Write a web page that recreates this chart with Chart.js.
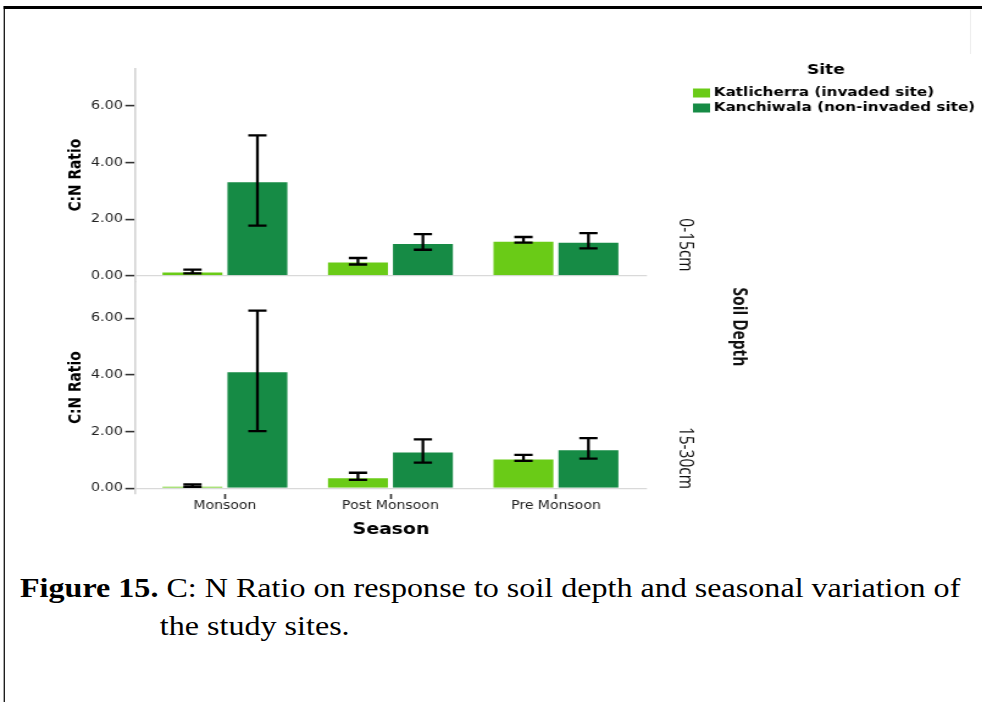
<!DOCTYPE html>
<html>
<head>
<meta charset="utf-8">
<script src="https://cdn.jsdelivr.net/npm/chart.js@4.4.1/dist/chart.umd.min.js"></script>
<style>
  html, body { margin: 0; padding: 0; background: #fff; width: 982px; height: 702px; overflow: hidden; }
  #page {
    position: absolute; left: 0; top: 0; width: 805px; height: 702px; overflow: hidden;
    transform: scaleX(1.22); transform-origin: 0 0; background: #fff;
  }
  #frame {
    position: absolute; left: 3.3px; top: 6px; width: 900px; height: 800px;
    border-left: 1.7px solid #000; border-top: 3px solid #000;
  }
  #edge { position: absolute; left: 795px; top: 10px; width: 1px; height: 44px; background: #eeeeee; }
  #c { position: absolute; left: 0; top: 0; }
  .cap { position: absolute; font-family: "Liberation Serif", "Times New Roman", serif; font-size: 26.3px;
         line-height: 30px; color: #000; white-space: nowrap; }
</style>
</head>
<body>
<div id="page">
  <div id="frame"></div>
  <div id="edge"></div>
  <canvas id="c" width="805" height="560"></canvas>
  <div class="cap" style="left:16.4px; top:574px;"><b>Figure 15.</b> C: N Ratio on response to soil depth and seasonal variation of</div>
  <div class="cap" style="left:131px; top:612px;">the study sites.</div>
</div>
<script>
// Seasons along the x axis
const seasons = ['Monsoon', 'Post Monsoon', 'Pre Monsoon'];
const siteNames = ['Katlicherra (invaded site)', 'Kanchiwala (non-invaded site)'];
const depthNames = ['0-15cm', '15-30cm'];
const yTickValues = [0, 2, 4, 6];

// Mean C:N ratio, 0-15cm
const katlicherraTop = [0.15, 0.51, 1.24];
const kanchiwalaTop  = [3.34, 1.16, 1.20];
// Error bar ranges [low, high], 0-15cm
const katlicherraTopErr = [[0.09, 0.22], [0.40, 0.63], [1.17, 1.37]];
const kanchiwalaTopErr  = [[1.77, 4.96], [0.92, 1.47], [0.97, 1.51]];

// Mean C:N ratio, 15-30cm
const katlicherraBot = [0.09, 0.39, 1.05];
const kanchiwalaBot  = [4.13, 1.30, 1.38];
// Error bar ranges [low, high], 15-30cm
const katlicherraBotErr = [[0.05, 0.14], [0.30, 0.55], [0.97, 1.18]];
const kanchiwalaBotErr  = [[2.02, 6.27], [0.91, 1.73], [1.05, 1.77]];

const LIGHT = '#6acb17';
const DARK = '#168b45';

const toPoints = vals => vals.map((v, i) => ({ x: i, y: v }));

function makeSet(label, vals, err, axis, stack, color) {
  return {
    label, data: toPoints(vals), errorRange: err, yAxisID: axis, stack,
    backgroundColor: color, borderColor: 'rgba(255,255,255,0.55)', borderWidth: 1, borderSkipped: 'bottom'
  };
}

// Draws the error bars from each dataset's errorRange
const errorBars = {
  id: 'errorBars',
  afterDatasetsDraw(chart) {
    const ctx = chart.ctx;
    ctx.save();
    ctx.strokeStyle = '#000';
    ctx.lineWidth = 2.3;
    chart.data.datasets.forEach((ds, di) => {
      const meta = chart.getDatasetMeta(di);
      const ys = chart.scales[ds.yAxisID];
      meta.data.forEach((bar, i) => {
        const [lo, hi] = ds.errorRange[i];
        const x = bar.x, y1 = ys.getPixelForValue(lo), y2 = ys.getPixelForValue(hi);
        const hw = 7.5;
        ctx.beginPath();
        ctx.moveTo(x, y1); ctx.lineTo(x, y2);
        ctx.moveTo(x - hw, y1); ctx.lineTo(x + hw, y1);
        ctx.moveTo(x - hw, y2); ctx.lineTo(x + hw, y2);
        ctx.stroke();
      });
    });
    ctx.restore();
  }
};

// Legend, facet labels and axis captions
const annotations = {
  id: 'annotations',
  afterDraw(chart) {
    const ctx = chart.ctx;
    const area = chart.chartArea;
    ctx.save();
    ctx.fillStyle = '#000';

    // x axis title
    ctx.font = 'bold 15.5px "DejaVu Sans"';
    ctx.textAlign = 'center';
    ctx.textBaseline = 'middle';
    ctx.fillText('Season', (area.left + area.right) / 2, 530);

    // legend
    ctx.font = 'bold 14px "DejaVu Sans"';
    ctx.fillText('Site', 677, 70);
    ctx.font = 'bold 12.5px "DejaVu Sans"';
    ctx.textAlign = 'left';
    const colors = [LIGHT, DARK];
    siteNames.forEach((name, k) => {
      const y = 93 + k * 15;
      ctx.fillStyle = colors[k];
      ctx.fillRect(568, y - 4.5, 14, 9);
      ctx.fillStyle = '#000';
      ctx.fillText(name, 585, y);
    });

    // facet labels on the right, rotated
    const vText = (txt, x, y, font) => {
      ctx.save();
      ctx.translate(x, y);
      ctx.rotate(Math.PI / 2);
      ctx.font = font;
      ctx.textAlign = 'center';
      ctx.textBaseline = 'middle';
      ctx.fillStyle = '#111';
      ctx.fillText(txt, 0, 0);
      ctx.restore();
    };
    const xr = area.right + 31;
    vText(depthNames[0], xr, 245, '15.5px "Open Sans"');
    vText(depthNames[1], xr, 458, '15.5px "Open Sans"');
    vText('Soil Depth', area.right + 75, 327, 'bold 15.5px "Open Sans"');
    ctx.restore();
  }
};

function yAxis(weight) {
  return {
    type: 'linear', position: 'left', stack: 'depth', stackWeight: 1, weight,
    stacked: false, min: -0.2, max: 7.3,
    afterFit: s => { s.width = 110.7; },
    afterBuildTicks: s => { s.ticks = yTickValues.map(v => ({ value: v })); },
    ticks: {
      color: '#222', font: { family: 'DejaVu Sans', size: 11.8 }, padding: 2,
      callback: v => Number(v).toFixed(2)
    },
    grid: {
      drawOnChartArea: true, drawTicks: true, tickLength: 8, tickWidth: 1.6, tickColor: '#333',
      lineWidth: 1.2,
      color: c => (c.tick && c.tick.value === 0) ? '#d9d9d9' : 'rgba(0,0,0,0)'
    },
    border: { display: true, color: '#d2d2d2', width: 1.6 },
    title: {
      display: true, text: 'C:N Ratio', color: '#000',
      font: { family: 'DejaVu Sans', size: 13.8, weight: 'bold' },
      padding: { top: 54, bottom: 0 }
    }
  };
}

Chart.defaults.font.family = 'DejaVu Sans';

new Chart(document.getElementById('c'), {
  type: 'bar',
  data: {
    datasets: [
      makeSet(siteNames[0], katlicherraTop, katlicherraTopErr, 'yTop', 'kat', LIGHT),
      makeSet(siteNames[1], kanchiwalaTop, kanchiwalaTopErr, 'yTop', 'kan', DARK),
      makeSet(siteNames[0], katlicherraBot, katlicherraBotErr, 'yBot', 'kat', LIGHT),
      makeSet(siteNames[1], kanchiwalaBot, kanchiwalaBotErr, 'yBot', 'kan', DARK)
    ]
  },
  options: {
    responsive: false,
    animation: false,
    devicePixelRatio: 1,
    categoryPercentage: 0.785,
    barPercentage: 0.96,
    layout: { padding: { left: 0, right: 274.7, top: 69, bottom: 44 } },
    plugins: { legend: { display: false }, tooltip: { enabled: false } },
    scales: {
      x: {
        type: 'linear', min: -0.543, max: 2.55, offset: false,
        afterFit: s => { s.height = 22; },
        afterBuildTicks: s => { s.ticks = seasons.map((_, i) => ({ value: i })); },
        ticks: {
          color: '#222', font: { family: 'DejaVu Sans', size: 11.5 }, padding: 0,
          maxRotation: 0, autoSkip: false,
          callback: v => seasons[v]
        },
        grid: {
          display: true, offset: false, drawOnChartArea: false, drawTicks: true,
          tickLength: 5, tickWidth: 1.6, tickColor: '#333'
        },
        border: { display: false }
      },
      yTop: yAxis(2),
      yBot: yAxis(1)
    }
  },
  plugins: [errorBars, annotations]
});
</script>
</body>
</html>
